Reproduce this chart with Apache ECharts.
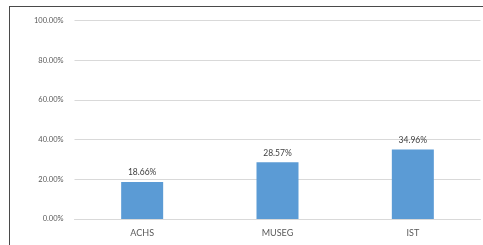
<!DOCTYPE html>
<html>
<head>
<meta charset="utf-8">
<script src="https://cdn.jsdelivr.net/npm/echarts@6/dist/echarts.min.js"></script>
<style>
  html, body { margin: 0; padding: 0; background: #fff; overflow: hidden; }
  #wrap { position: relative; width: 483px; height: 245px; overflow: hidden; }
  #chart { width: 483px; height: 245px; }
  /* frame around the chart area, only left and top edges fall inside the crop */
  #frame {
    position: absolute; left: 9px; top: 6px; width: 600px; height: 400px;
    border-left: 1.5px solid #4a4a4a; border-top: 1.5px solid #4a4a4a;
    pointer-events: none;
  }
</style>
</head>
<body>
<div id="wrap">
  <div id="chart"></div>
  <div id="frame"></div>
</div>
<script>
const categories = ['ACHS', 'MUSEG', 'IST']
const shares = [18.66, 28.57, 34.96]
const yTicks = [0, 20, 40, 60, 80, 100]

const chart = echarts.init(document.getElementById('chart'))
chart.setOption({
  backgroundColor: '#fff',
  animation: false,
  grid: { left: 74.5, right: 2.5, top: 20.5, bottom: 26 },
  xAxis: {
    type: 'category',
    data: categories,
    axisLine: { lineStyle: { color: '#d9d9d9' } },
    axisTick: { show: false },
    axisLabel: { color: '#595959', fontSize: 9, fontFamily: 'Lato', margin: 10 }
  },
  yAxis: {
    type: 'value',
    min: yTicks[0],
    max: yTicks[yTicks.length - 1],
    interval: 20,
    axisLine: { show: false },
    axisTick: { show: false },
    splitLine: { lineStyle: { color: '#d9d9d9' } },
    axisLabel: {
      color: '#595959',
      fontSize: 7.5,
      fontFamily: 'Lato',
      margin: 11,
      formatter: v => v.toFixed(2) + '%'
    }
  },
  series: [
    {
      type: 'bar',
      data: shares,
      barWidth: 42,
      itemStyle: { color: '#5b9bd5' },
      label: {
        show: true,
        position: 'top',
        distance: 5,
        color: '#404040',
        fontSize: 8.5,
        fontFamily: 'Lato',
        formatter: p => p.value.toFixed(2) + '%'
      }
    }
  ]
})
</script>
</body>
</html>
